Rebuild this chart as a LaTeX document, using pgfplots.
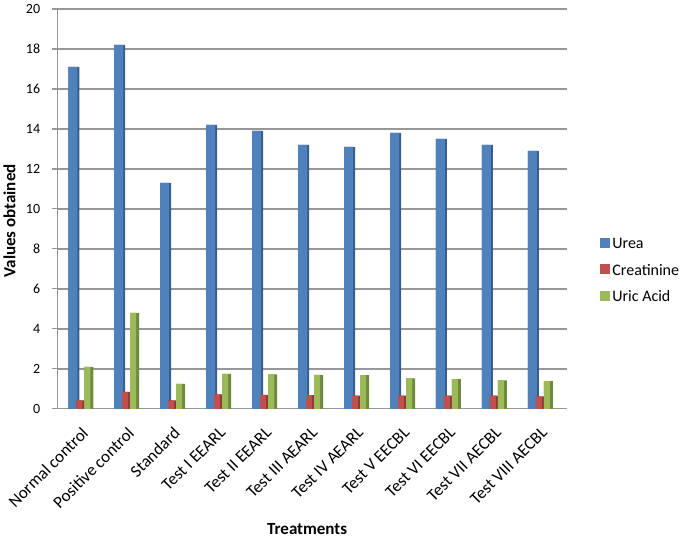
\documentclass[border=0pt]{standalone}
\usepackage{pgfplots}
\pgfplotsset{compat=1.18}
\usepackage{fontspec}
\setmainfont{Carlito}
\definecolor{cblue}{HTML}{4F81BD}
\definecolor{cblued}{HTML}{385D8A}
\definecolor{cred}{HTML}{C0504D}
\definecolor{credd}{HTML}{8C3836}
\definecolor{cgreen}{HTML}{9BBB59}
\definecolor{cgreend}{HTML}{71893F}
\definecolor{gridc}{HTML}{979797}
\pgfplotstableread{
x urea creat uric
0 17.1 0.42 2.1
1 18.2 0.85 4.8
2 11.3 0.42 1.25
3 14.2 0.72 1.75
4 13.9 0.70 1.72
5 13.2 0.68 1.70
6 13.1 0.66 1.68
7 13.8 0.66 1.52
8 13.5 0.66 1.48
9 13.2 0.66 1.42
10 12.9 0.62 1.38
}\datatable
\begin{document}
\begin{tikzpicture}
\begin{axis}[
  scale only axis,
  width=510pt, height=400pt,
  xmin=-0.51, xmax=10.58,
  ymin=0, ymax=20,
  clip=false,
  ytick={0,2,...,20},
  xtick={0,...,10},
  xticklabels={Normal control,Positive control,Standard,Test I EEARL,Test II EEARL,Test III AEARL,Test IV AEARL,Test V EECBL,Test VI EECBL,Test VII AECBL,Test VIII AECBL},
  x tick label style={rotate=45, anchor=north east, font=\fontsize{17}{19}\selectfont, inner sep=0pt},
  xticklabel shift=12pt,
  y tick label style={font=\fontsize{14}{16}\selectfont, inner sep=0pt},
  yticklabel shift=12pt,
  /pgf/number format/assume math mode=true,
  ymajorgrids,
  grid style={gridc, line width=1.4pt},
  axis x line*=bottom,
  axis y line*=left,
  axis line style={gridc, line width=1.4pt},
  x axis line style={-},
  y axis line style={-},
  major x tick style={draw=none},
  major y tick style={gridc, line width=1.2pt},
  tick align=outside,
  major tick length=5pt,
  xlabel={\textbf{Treatments}},
  ylabel={\textbf{Values obtained}},
  xlabel style={font=\fontsize{17}{19}\selectfont, at={(axis description cs:0.49,0)}, anchor=center, yshift=-120pt},
  ylabel style={font=\fontsize{17}{19}\selectfont, at={(axis description cs:0,0.47)}, anchor=center, yshift=48pt},
  legend style={draw=none, at={(1.065,0.345)}, anchor=west, font=\fontsize{16}{18}\selectfont, row sep=10pt, fill=none, inner sep=0pt},
  legend cell align=left,
  area legend,
  legend image code/.code={\fill[#1] (0pt,-4pt) rectangle (10pt,6pt);},
]
\addplot[ybar, bar width=11pt, bar shift=-7pt, fill=cblued, draw=none, forget plot] table[x=x,y=urea] {\datatable};
\addplot[ybar, bar width=9pt, bar shift=-8pt, fill=cblue, draw=none] table[x=x,y=urea] {\datatable};
\addplot[ybar, bar width=8pt, bar shift=-0.5pt, fill=credd, draw=none, forget plot] table[x=x,y=creat] {\datatable};
\addplot[ybar, bar width=6pt, bar shift=-1.5pt, fill=cred, draw=none] table[x=x,y=creat] {\datatable};
\addplot[ybar, bar width=9pt, bar shift=8pt, fill=cgreend, draw=none, forget plot] table[x=x,y=uric] {\datatable};
\addplot[ybar, bar width=6pt, bar shift=6.5pt, fill=cgreen, draw=none] table[x=x,y=uric] {\datatable};
\legend{Urea,Creatinine,Uric Acid}
% bounding box to the reference's proportions
\path (rel axis cs:0,0) ++(-57pt,-130pt) (rel axis cs:1,1) ++(118pt,9pt);
\end{axis}
\end{tikzpicture}
\end{document}
